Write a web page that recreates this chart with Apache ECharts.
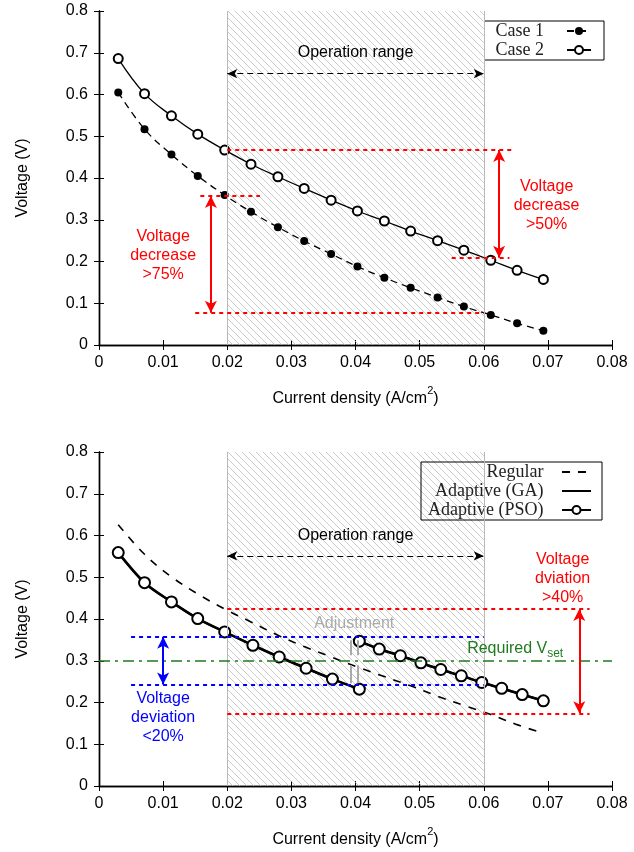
<!DOCTYPE html>
<html>
<head>
<meta charset="utf-8">
<script src="https://cdn.jsdelivr.net/npm/echarts@6/dist/echarts.min.js"></script>
<style>
  html, body { margin: 0; background: #fff; }
  #main { width: 634px; height: 852px; }
</style>
</head>
<body>
<div id="main"></div>
<script>
// tick labels
var xTicks = ["0", "0.01", "0.02", "0.03", "0.04", "0.05", "0.06", "0.07", "0.08"];
var yTicks = ["0", "0.1", "0.2", "0.3", "0.4", "0.5", "0.6", "0.7", "0.8"];

// top panel
var caseX = [0.003, 0.0071, 0.0113, 0.0154, 0.0196, 0.0237, 0.0279, 0.032, 0.0362,
  0.0403, 0.0445, 0.0486, 0.0528, 0.0569, 0.0611, 0.0652, 0.0693];
var case1V = [0.605, 0.517, 0.456, 0.405, 0.359, 0.319, 0.282, 0.249, 0.218,
  0.188, 0.161, 0.137, 0.114, 0.092, 0.072, 0.052, 0.034];
var case2V = [0.686, 0.602, 0.549, 0.505, 0.467, 0.433, 0.403, 0.375, 0.347,
  0.321, 0.297, 0.273, 0.250, 0.227, 0.203, 0.179, 0.157];

// bottom panel
var regularV = [0.626, 0.555, 0.501, 0.460, 0.424, 0.393, 0.361, 0.334, 0.309,
  0.285, 0.262, 0.240, 0.215, 0.193, 0.171, 0.147, 0.126];
var adaptX1 = [0.003, 0.0071, 0.0113, 0.0154, 0.0196, 0.024, 0.0281, 0.0323, 0.0364, 0.0406];
var adaptX2 = [0.0406, 0.0437, 0.047, 0.0502, 0.0533, 0.0565, 0.0597, 0.0628, 0.066, 0.0693];
var gaV1 = [0.559, 0.487, 0.441, 0.401, 0.369, 0.337, 0.309, 0.282, 0.256, 0.232];
var gaV2 = [0.347, 0.328, 0.312, 0.295, 0.279, 0.264, 0.248, 0.234, 0.219, 0.204];
var psoV1 = [0.559, 0.487, 0.441, 0.401, 0.369, 0.337, 0.309, 0.282, 0.256, 0.232];
var psoV2 = [0.347, 0.328, 0.312, 0.295, 0.279, 0.264, 0.248, 0.234, 0.219, 0.204];

// shaded operation range
var opRange = [0.02, 0.06];

// annotation lines: [x1, x2, y] horizontal, [x, y1, y2] vertical
var topRedLines = [[0.02, 0.0645, 0.467], [0.055, 0.064, 0.209], [0.0158, 0.0251, 0.357], [0.015, 0.06, 0.077]];
var topRedArrows = [[0.0624, 0.467, 0.209], [0.01745, 0.357, 0.077]];
var topOpArrow = [0.02, 0.06, 0.65];
var botRedLines = [[0.02, 0.0765, 0.424], [0.02, 0.0765, 0.174]];
var botRedArrows = [[0.0749, 0.424, 0.174]];
var botBlueLines = [[0.005, 0.06, 0.3575], [0.005, 0.06, 0.243]];
var botBlueArrows = [[0.01, 0.3575, 0.243]];
var botGreenLine = [0, 0.08, 0.3];
var botGrayLines = [[0.0392, 0.313, 0.349], [0.0403, 0.313, 0.349], [0.0392, 0.246, 0.289], [0.0403, 0.246, 0.289]];
var botOpArrow = [0.02, 0.06, 0.551];

// annotation texts: [x, y, text]
var topBlackNotes = [[0.04, 0.701, "Operation range"]];
var topRedNotes = [[0.0698, 0.333, "Voltage\ndecrease\n>50%"], [0.01, 0.213, "Voltage\ndecrease\n>75%"]];
var botBlackNotes = [[0.04, 0.599, "Operation range"]];
var botRedNotes = [[0.0723, 0.497, "Voltage\ndviation\n>40%"]];
var botBlueNotes = [[0.01, 0.163, "Voltage\ndeviation\n<20%"]];
var botGrayNotes = [[0.0398, 0.389, "Adjustment"]];
var botGreenNotes = [[0.0649, 0.33, "Required V{sub|set}"]];

var SANS = "Liberation Sans, Arial, sans-serif";
var SERIF = "Liberation Serif, Times New Roman, serif";

function pairs(xs, ys) {
  return xs.map(function (x, i) { return [x, ys[i]]; });
}

function hatch() {
  var s = 7;
  var c = document.createElement("canvas");
  c.width = s; c.height = s;
  var g = c.getContext("2d");
  g.strokeStyle = "#bcbcbc";
  g.lineWidth = 0.8;
  g.beginPath();
  g.moveTo(0, 0); g.lineTo(s, s);
  g.moveTo(-1, s - 1); g.lineTo(1, s + 1);
  g.moveTo(s - 1, -1); g.lineTo(s + 1, 1);
  g.stroke();
  return c;
}
var hatchPattern = { image: hatch(), repeat: "repeat" };

function hLine(l, style) {
  return [{ coord: [l[0], l[2]], lineStyle: style, symbol: "none" }, { coord: [l[1], l[2]], symbol: "none" }];
}
function arrow(a, style, size, horizontal) {
  var p1 = horizontal ? [a[0], a[2]] : [a[0], a[1]];
  var p2 = horizontal ? [a[1], a[2]] : [a[0], a[2]];
  return [{ coord: p1, lineStyle: style, symbol: "arrow", symbolSize: size },
          { coord: p2, symbol: "arrow", symbolSize: size }];
}
function notes(list, color, extra) {
  return list.map(function (n) {
    return {
      coord: [n[0], n[1]],
      label: Object.assign({
        show: true, position: "inside", formatter: n[2], color: color,
        fontSize: 16, lineHeight: 19, fontFamily: SANS, align: "center"
      }, extra || {})
    };
  });
}

var red = { color: "#ff0000", width: 2, type: [4, 4] };
var redArrow = { color: "#ff0000", width: 2, type: "solid" };
var blue = { color: "#0000ff", width: 2, type: [4, 4] };
var blueArrow = { color: "#0000ff", width: 2, type: "solid" };
var green = { color: "#1e7b1e", width: 1.6, type: [11, 5, 3, 5] };
var gray = { color: "#aaaaaa", width: 2, type: "solid" };
var opArrowStyle = { color: "#000", width: 1, type: [6, 4] };
var edge = { color: "#b8b8b8", width: 1, type: "solid" };

function axes(gi) {
  var line = { show: true, lineStyle: { color: "#000", width: 1.4 } };
  var tick = { show: true, inside: true, length: 5, lineStyle: { color: "#000", width: 1 } };
  var xBase = { gridIndex: gi, type: "value", min: 0, max: 0.08, interval: 0.01,
    axisLine: line, axisTick: tick, splitLine: { show: false } };
  var yBase = { gridIndex: gi, type: "value", min: 0, max: 0.8, interval: 0.1,
    axisLine: line, axisTick: tick, splitLine: { show: false } };
  return {
    x: [
      Object.assign({}, xBase, {
        position: "bottom",
        axisLabel: { margin: 10, fontSize: 16, color: "#000", fontFamily: SANS,
          formatter: function (v) { return xTicks[Math.round(v / 0.01)]; } },
        name: "{a|Current density (A/cm}{s|2}{a|)}",
        nameLocation: "middle", nameGap: 40,
        nameTextStyle: { rich: {
          a: { fontSize: 16, fontFamily: SANS, color: "#000", lineHeight: 22, verticalAlign: "bottom" },
          s: { fontSize: 11, fontFamily: SANS, color: "#000", lineHeight: 12, verticalAlign: "top" }
        } }
      }),
      Object.assign({}, xBase, { position: "top", axisLabel: { show: false } })
    ],
    y: [
      Object.assign({}, yBase, {
        position: "left",
        axisLabel: { margin: 11, fontSize: 16, color: "#000", fontFamily: SANS,
          formatter: function (v) { return yTicks[Math.round(v / 0.1)]; } },
        name: "Voltage (V)", nameLocation: "middle", nameGap: 68,
        nameTextStyle: { fontSize: 16, fontFamily: SANS, color: "#000" }
      }),
      Object.assign({}, yBase, { position: "right", axisLabel: { show: false } })
    ]
  };
}

var a0 = axes(0), a1 = axes(1);

var greenSub = { fontSize: 12, fontFamily: SANS, color: "#1e7b1e", verticalAlign: "bottom", lineHeight: 22 };
var legendText = { fontSize: 18, lineHeight: 18, fontFamily: SERIF, color: "#222" };

var option = {
  animation: false,
  backgroundColor: "#fff",
  grid: [
    { left: 99, right: 22, top: 11, height: 334 },
    { left: 99, right: 22, top: 452, height: 334 }
  ],
  xAxis: a0.x.concat(a1.x),
  yAxis: a0.y.concat(a1.y),
  legend: [
    {
      data: ["Case 1", "Case 2"], orient: "vertical", align: "right",
      right: 30, top: 21, padding: [1, 12, 1, 11], itemGap: 1,
      itemWidth: 24, itemHeight: 10,
      formatter: function (n) { return n + "    "; },
      borderColor: "#000", borderWidth: 1, borderRadius: 0,
      textStyle: legendText
    },
    {
      data: [
        { name: "Regular", itemStyle: { opacity: 0 } },
        { name: "Adaptive (GA)", itemStyle: { opacity: 0 } },
        "Adaptive (PSO)"
      ],
      orient: "vertical", align: "right",
      right: 32, top: 462, padding: [1, 10, 1, 7], itemGap: 1,
      itemWidth: 29, itemHeight: 10,
      formatter: function (n) { return n + "   "; },
      borderColor: "#000", borderWidth: 1, borderRadius: 0,
      textStyle: legendText
    }
  ],
  series: [
    // annotations, top panel
    {
      type: "line", name: "annotTop", xAxisIndex: 0, yAxisIndex: 0, data: [], silent: true,
      markArea: { silent: true, itemStyle: { color: hatchPattern, borderWidth: 0 },
        data: [[{ xAxis: opRange[0] }, { xAxis: opRange[1] }]] },
      markLine: {
        silent: true, animation: false, label: { show: false },
        data: [
          [{ coord: [opRange[0], 0], lineStyle: edge, symbol: "none" }, { coord: [opRange[0], 0.8], symbol: "none" }],
          [{ coord: [opRange[1], 0], lineStyle: edge, symbol: "none" }, { coord: [opRange[1], 0.8], symbol: "none" }]
        ].concat(topRedLines.map(function (l) { return hLine(l, red); }))
         .concat(topRedArrows.map(function (a) { return arrow(a, redArrow, [9, 12], false); }))
         .concat([arrow(topOpArrow, opArrowStyle, [7, 10], true)])
      },
      markPoint: {
        silent: true, symbol: "circle", symbolSize: 1, itemStyle: { color: "rgba(0,0,0,0)" },
        data: notes(topBlackNotes, "#000").concat(notes(topRedNotes, "#ff0000"))
      }
    },
    {
      name: "Case 1", type: "line", xAxisIndex: 0, yAxisIndex: 0,
      data: pairs(caseX, case1V), smooth: 0.4,
      symbol: "circle", symbolSize: 8,
      itemStyle: { color: "#000" },
      lineStyle: { color: "#000", width: 1.3, type: [7, 5] }
    },
    {
      name: "Case 2", type: "line", xAxisIndex: 0, yAxisIndex: 0,
      data: pairs(caseX, case2V), smooth: 0.4,
      symbol: "emptyCircle", symbolSize: 9,
      itemStyle: { color: "#000", borderWidth: 1.3 },
      lineStyle: { color: "#000", width: 1.3 }
    },
    // annotations, bottom panel
    {
      type: "line", name: "annotBottom", xAxisIndex: 2, yAxisIndex: 2, data: [], silent: true,
      markArea: { silent: true, itemStyle: { color: hatchPattern, borderWidth: 0 },
        data: [[{ xAxis: opRange[0] }, { xAxis: opRange[1] }]] },
      markLine: {
        silent: true, animation: false, label: { show: false },
        data: [
          [{ coord: [opRange[0], 0], lineStyle: edge, symbol: "none" }, { coord: [opRange[0], 0.8], symbol: "none" }],
          [{ coord: [opRange[1], 0], lineStyle: edge, symbol: "none" }, { coord: [opRange[1], 0.8], symbol: "none" }],
          hLine(botGreenLine, green)
        ].concat(botRedLines.map(function (l) { return hLine(l, red); }))
         .concat(botBlueLines.map(function (l) { return hLine(l, blue); }))
         .concat(botGrayLines.map(function (g) {
           return [{ coord: [g[0], g[1]], lineStyle: gray, symbol: "none" }, { coord: [g[0], g[2]], symbol: "none" }];
         }))
         .concat(botRedArrows.map(function (a) { return arrow(a, redArrow, [9, 12], false); }))
         .concat(botBlueArrows.map(function (a) { return arrow(a, blueArrow, [9, 12], false); }))
         .concat([arrow(botOpArrow, opArrowStyle, [7, 10], true)])
      },
      markPoint: {
        silent: true, symbol: "circle", symbolSize: 1, itemStyle: { color: "rgba(0,0,0,0)" },
        data: notes(botBlackNotes, "#000")
          .concat(notes(botRedNotes, "#ff0000"))
          .concat(notes(botBlueNotes, "#0000ff"))
          .concat(notes(botGrayNotes, "#aaaaaa"))
          .concat(notes(botGreenNotes, "#1e7b1e", { rich: { sub: greenSub } }))
      }
    },
    {
      name: "Regular", type: "line", xAxisIndex: 2, yAxisIndex: 2,
      data: pairs(caseX, regularV), smooth: 0.4, symbol: "none",
      lineStyle: { color: "#000", width: 1.6, type: [8, 8] }, itemStyle: { color: "#000" }
    },
    {
      name: "Adaptive (GA)", type: "line", xAxisIndex: 2, yAxisIndex: 2,
      data: pairs(adaptX1, gaV1), smooth: 0.3, symbol: "none",
      lineStyle: { color: "#000", width: 2.6 }, itemStyle: { color: "#000" }
    },
    {
      name: "Adaptive (GA)", type: "line", xAxisIndex: 2, yAxisIndex: 2,
      data: pairs(adaptX2, gaV2), smooth: 0.3, symbol: "none",
      lineStyle: { color: "#000", width: 2.6 }, itemStyle: { color: "#000" }
    },
    {
      name: "Adaptive (PSO)", type: "line", xAxisIndex: 2, yAxisIndex: 2,
      data: pairs(adaptX1, psoV1), smooth: 0.3,
      symbol: "emptyCircle", symbolSize: 11,
      itemStyle: { color: "#000", borderWidth: 1.8 },
      lineStyle: { color: "#000", width: 2 }
    },
    {
      name: "Adaptive (PSO)", type: "line", xAxisIndex: 2, yAxisIndex: 2,
      data: pairs(adaptX2, psoV2), smooth: 0.3,
      symbol: "emptyCircle", symbolSize: 11,
      itemStyle: { color: "#000", borderWidth: 1.8 },
      lineStyle: { color: "#000", width: 2 }
    }
  ]
};

var chart = echarts.init(document.getElementById("main"), null, { renderer: "canvas" });
chart.setOption(option);
</script>
</body>
</html>
